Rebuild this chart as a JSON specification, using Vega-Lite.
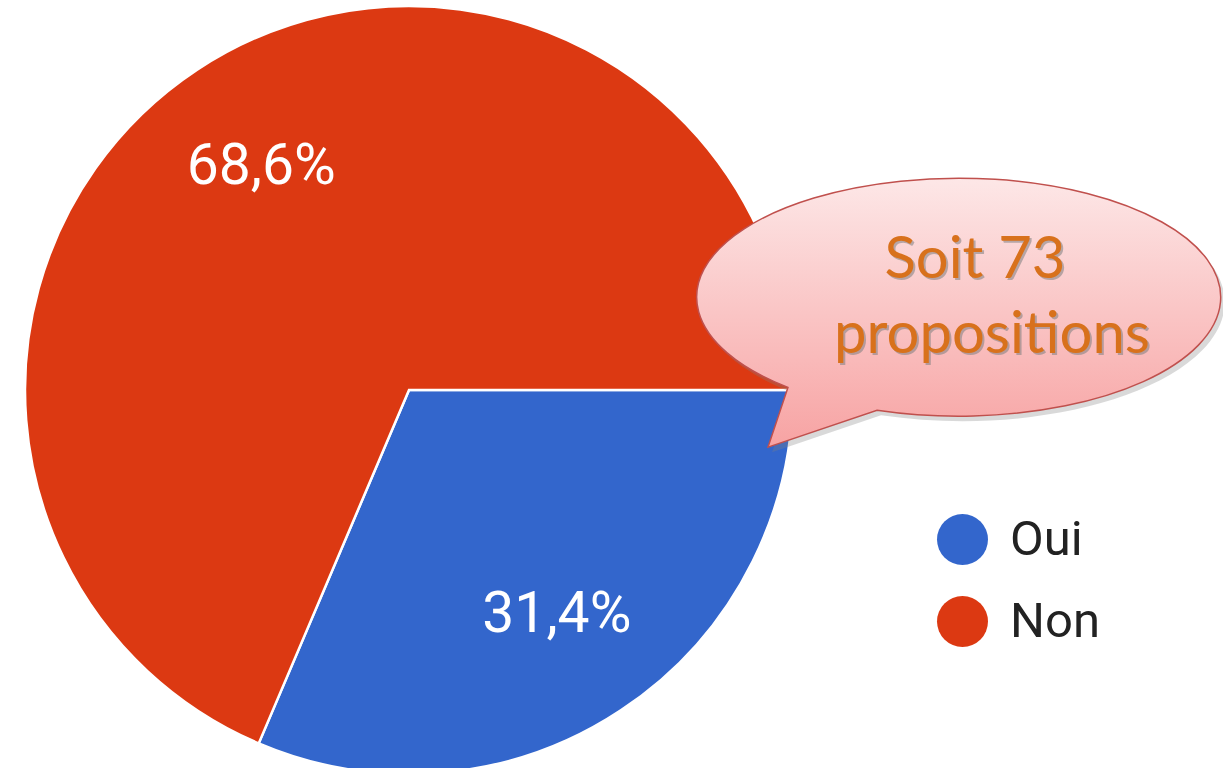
{
  "$schema": "https://vega.github.io/schema/vega-lite/v6.json",
  "width": 1223,
  "height": 768,
  "padding": 0,
  "autosize": {"type": "none"},
  "background": "#ffffff",
  "config": {"view": {"stroke": null}},
  "layer": [
    {
      "data": {"values": [
        {"answer": "Oui", "value": 31.4, "label": "31,4%"},
        {"answer": "Non", "value": 68.6, "label": "68,6%"}
      ]},
      "encoding": {
        "x": {"datum": 409, "type": "quantitative", "scale": {"domain": [0, 1223], "nice": false, "zero": false}, "axis": null},
        "y": {"datum": 390, "type": "quantitative", "scale": {"domain": [0, 768], "nice": false, "zero": false, "reverse": true}, "axis": null},
        "theta": {"field": "value", "type": "quantitative", "stack": true, "scale": {"range": [1.5708, 7.854]}},
        "order": {"field": "answer", "sort": "descending"},
        "color": {
          "field": "answer", "type": "nominal",
          "scale": {"domain": ["Oui", "Non"], "range": ["#3366CC", "#DC3912"]},
          "legend": {
            "orient": "none", "legendX": 937, "legendY": 514, "title": null,
            "symbolType": "circle", "symbolSize": 2600, "symbolStrokeWidth": 0,
            "labelFontSize": 49, "labelFont": "Roboto", "labelColor": "#222222",
            "rowPadding": 31, "labelOffset": 22, "padding": 0
          }
        }
      },
      "layer": [
        {"mark": {"type": "arc", "outerRadius": 384, "stroke": "#ffffff", "strokeWidth": 2.5}},
        {"mark": {"type": "text", "radius": 268, "fill": "#ffffff", "font": "Roboto", "fontSize": 57, "align": "center", "baseline": "middle", "dy": 1},
         "encoding": {"text": {"field": "label"}, "color": {"value": "#ffffff"}}}
      ]
    },
    {
      "data": {"values": [{}]},
      "mark": {"type": "point", "shape": "M -0.309 0.432 A 1 0.454 0 1 0 -0.649 0.345 L -0.725 0.573 Z", "size": 274576, "filled": true, "fill": "#808080", "opacity": 0.3, "strokeWidth": 0, "xOffset": 4, "yOffset": 5},
      "encoding": {
        "x": {"datum": 958, "type": "quantitative"},
        "y": {"datum": 297, "type": "quantitative"}
      }
    },
    {
      "data": {"values": [{}]},
      "mark": {"type": "point", "shape": "M -0.309 0.432 A 1 0.454 0 1 0 -0.649 0.345 L -0.725 0.573 Z", "size": 274576, "filled": true,
        "fill": {"gradient": "linear", "x1": 0, "y1": 0, "x2": 0, "y2": 1, "stops": [{"offset": 0, "color": "#fde7e7"}, {"offset": 1, "color": "#f7a3a3"}]},
        "opacity": 1, "stroke": "#c0504d", "strokeWidth": 1.5},
      "encoding": {
        "x": {"datum": 958, "type": "quantitative"},
        "y": {"datum": 297, "type": "quantitative"}
      }
    },
    {
      "data": {"values": [{"t": "Soit 73", "line": 1}, {"t": "propositions", "line": 2}]},
      "transform": [{"filter": "datum.line == 1"}],
      "layer": [
        {"mark": {"type": "text", "font": "Lato", "fontSize": 58, "align": "center", "baseline": "alphabetic", "fill": "#7f7f7f", "opacity": 0.55, "dx": 2, "dy": 2}},
        {"mark": {"type": "text", "font": "Lato", "fontSize": 58, "align": "center", "baseline": "alphabetic", "fill": "#d8711c"}}
      ],
      "encoding": {
        "text": {"field": "t"},
        "x": {"datum": 975, "type": "quantitative"},
        "y": {"datum": 278, "type": "quantitative"}
      }
    },
    {
      "data": {"values": [{"t": "Soit 73", "line": 1}, {"t": "propositions", "line": 2}]},
      "transform": [{"filter": "datum.line == 2"}],
      "layer": [
        {"mark": {"type": "text", "font": "Lato", "fontSize": 58, "align": "center", "baseline": "alphabetic", "fill": "#7f7f7f", "opacity": 0.55, "dx": 2, "dy": 2}},
        {"mark": {"type": "text", "font": "Lato", "fontSize": 58, "align": "center", "baseline": "alphabetic", "fill": "#d8711c"}}
      ],
      "encoding": {
        "text": {"field": "t"},
        "x": {"datum": 992, "type": "quantitative"},
        "y": {"datum": 353, "type": "quantitative"}
      }
    }
  ]
}
